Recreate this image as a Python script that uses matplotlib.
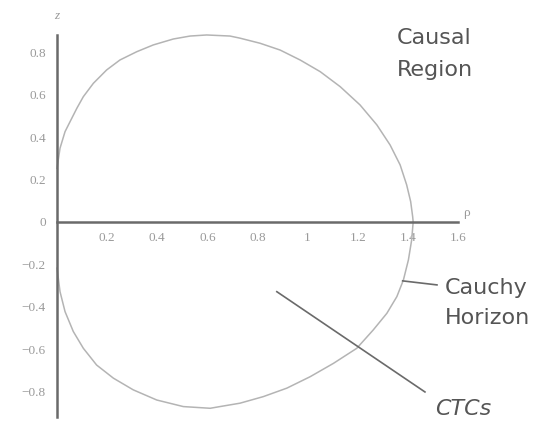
import matplotlib
matplotlib.use("Agg")
import matplotlib.pyplot as plt

# Cauchy horizon in the (rho, z) plane, upper and lower branches
rho_upper = [0.0, 0.012, 0.032, 0.052, 0.079, 0.105, 0.145, 0.198, 0.251,
             0.318, 0.384, 0.464, 0.531, 0.597, 0.690, 0.730, 0.810, 0.890,
             0.970, 1.050, 1.130, 1.209, 1.276, 1.329, 1.369, 1.395, 1.411,
             1.419, 1.421]
z_upper = [0.253, 0.348, 0.426, 0.473, 0.536, 0.591, 0.654, 0.717, 0.764,
           0.803, 0.835, 0.863, 0.877, 0.882, 0.877, 0.867, 0.843, 0.811,
           0.764, 0.709, 0.638, 0.552, 0.458, 0.363, 0.269, 0.175, 0.096,
           0.025, 0.0]
rho_lower = [1.421, 1.415, 1.402, 1.382, 1.356, 1.316, 1.262, 1.196, 1.103,
             1.010, 0.917, 0.823, 0.730, 0.650, 0.611, 0.504, 0.398, 0.304,
             0.225, 0.158, 0.105, 0.065, 0.032, 0.012, 0.0]
z_lower = [0.0, -0.085, -0.179, -0.274, -0.352, -0.431, -0.509, -0.596, -0.667,
           -0.730, -0.784, -0.824, -0.855, -0.871, -0.879, -0.871, -0.840,
           -0.792, -0.737, -0.675, -0.596, -0.517, -0.423, -0.329, -0.218]

rho_ticks = [0.2, 0.4, 0.6, 0.8, 1.0, 1.2, 1.4, 1.6]
rho_labels = ["0.2", "0.4", "0.6", "0.8", "1", "1.2", "1.4", "1.6"]
z_ticks = [-0.8, -0.6, -0.4, -0.2, 0.0, 0.2, 0.4, 0.6, 0.8]
z_labels = ["\u22120.8", "\u22120.6", "\u22120.4", "\u22120.2", "0",
            "0.2", "0.4", "0.6", "0.8"]

AXIS_COLOR = "#6a6a6a"
CURVE_COLOR = "#b4b4b4"
TICK_COLOR = "#9a9a9a"
NOTE_COLOR = "#555555"

fig = plt.figure(figsize=(5.42, 4.21), dpi=100)
ax = fig.add_axes([0, 0, 1, 1])
ax.set_xlim(-0.2275, 1.935)
ax.set_ylim(-0.939, 1.047)
ax.set_facecolor("white")

# axes crossing at the origin
for side in ("top", "right"):
    ax.spines[side].set_visible(False)
ax.spines["left"].set_position(("data", 0))
ax.spines["bottom"].set_position(("data", 0))
ax.spines["left"].set_bounds(-0.92, 0.88)
ax.spines["bottom"].set_bounds(0, 1.6)
for side in ("left", "bottom"):
    ax.spines[side].set_color(AXIS_COLOR)
    ax.spines[side].set_linewidth(1.8)

ax.set_xticks(rho_ticks)
ax.set_xticklabels(rho_labels)
ax.set_yticks(z_ticks)
ax.set_yticklabels(z_labels)
ax.tick_params(axis="both", length=0, labelsize=9.5, labelcolor=TICK_COLOR)
ax.tick_params(axis="x", pad=7)
ax.tick_params(axis="y", pad=8)
for lab in ax.get_xticklabels() + ax.get_yticklabels():
    lab.set_family("Liberation Serif")

ax.text(0.0, 0.97, "z", ha="center", va="center", fontsize=9.5,
        color=TICK_COLOR, family="Liberation Serif", style="italic")
ax.text(1.62, 0.04, "\u03c1", ha="left", va="center", fontsize=9.5,
        color=TICK_COLOR, family="Liberation Serif")

ax.plot(rho_upper, z_upper, color=CURVE_COLOR, lw=1.1)
ax.plot(rho_lower, z_lower, color=CURVE_COLOR, lw=1.1)

# labels for the regions
note = dict(fontsize=16, color=NOTE_COLOR, family="DejaVu Sans",
            ha="left", va="center")
ax.text(1.357, 0.867, "Causal", **note)
ax.text(1.357, 0.717, "Region", **note)
ax.plot([1.379, 1.516], [-0.278, -0.297], color=AXIS_COLOR, lw=1.2)
ax.text(1.548, -0.311, "Cauchy", **note)
ax.text(1.548, -0.453, "Horizon", **note)
ax.plot([0.877, 1.468], [-0.329, -0.802], color=AXIS_COLOR, lw=1.2)
ax.text(1.508, -0.929, "CTCs", fontsize=16, color=NOTE_COLOR,
        family="DejaVu Sans", ha="left", va="bottom", style="italic")

fig.savefig("out.png", dpi=100)
